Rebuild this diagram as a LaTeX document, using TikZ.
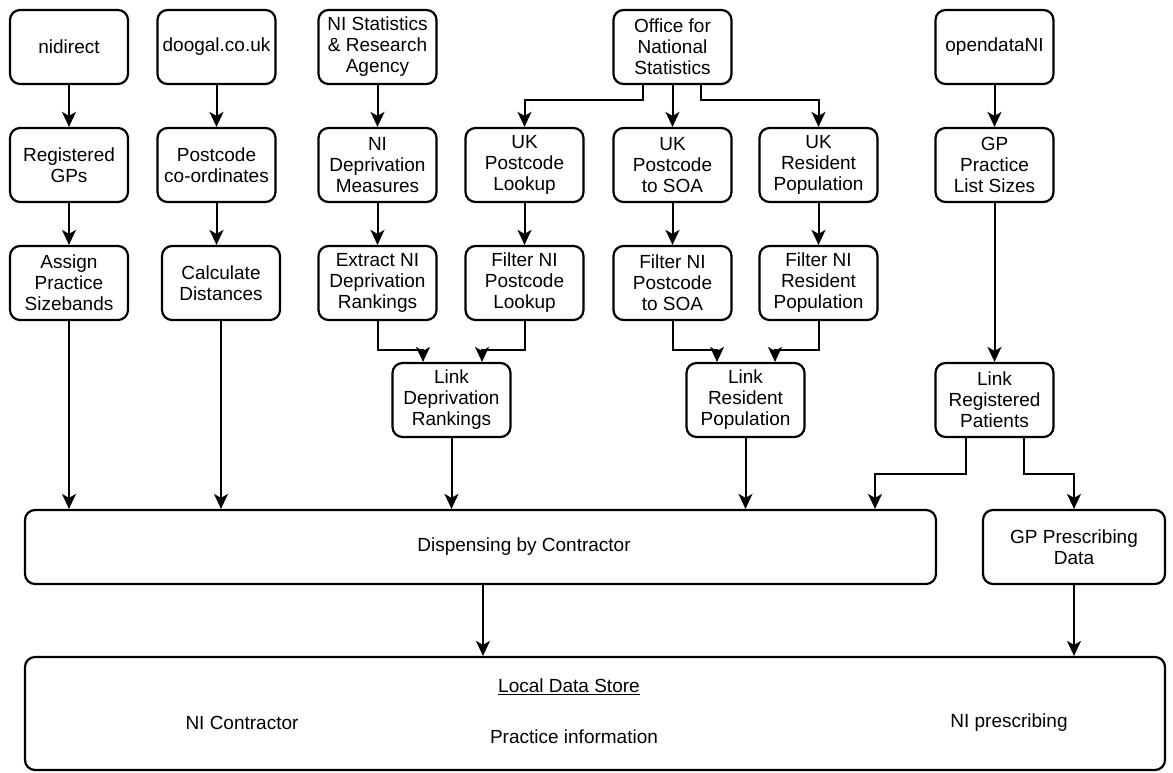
\documentclass[tikz,border=0pt]{standalone}
\usepackage{fontspec}
\setmainfont{Liberation Sans}
\usepackage{tikz}
\usetikzlibrary{calc,arrows.meta}

\begin{document}
\begin{tikzpicture}[x=1pt,y=-1pt]
  \tikzset{flowbox/.style={draw=black,line width=2.2pt,rounded corners=10pt,align=center,
      minimum width=118pt,minimum height=74pt,inner sep=2pt,font=\fontsize{19}{21}\selectfont}}
  \tikzset{flowarrow/.style={draw=black,line width=2pt,-{Stealth[length=15pt,width=14pt,inset=4pt]}}}
  \tikzset{storetext/.style={inner sep=0pt,font=\fontsize{19}{21}\selectfont}}
  \useasboundingbox (0,0) rectangle (1173,772);
  % sources
  \node[flowbox] (nidirect) at (69,47) {nidirect};
  \node[flowbox] (doogal) at (216.5,47) {doogal.co.uk};
  \node[flowbox] (nisra) at (377.5,47) {NI Statistics\\\& Research\\Agency};
  \node[flowbox] (ons) at (672.5,47) {Office for\\National\\Statistics};
  \node[flowbox] (opendata) at (994.5,47) {opendataNI};
  % data sets
  \node[flowbox] (reggp) at (69,165) {Registered\\GPs};
  \node[flowbox] (pccoord) at (216.5,165) {Postcode\\co-ordinates};
  \node[flowbox] (depmeas) at (377.5,165) {NI\\Deprivation\\Measures};
  \node[flowbox] (pclookup) at (524.5,165) {UK\\Postcode\\Lookup};
  \node[flowbox] (pcsoa) at (672.5,165) {UK\\Postcode\\to SOA};
  \node[flowbox] (ukres) at (818.5,165) {UK\\Resident\\Population};
  \node[flowbox] (gplist) at (994.5,165) {GP\\Practice\\List Sizes};
  % processing
  \node[flowbox] (sizeband) at (69,283) {Assign\\Practice\\Sizebands};
  \node[flowbox] (calcdist) at (221,283) {Calculate\\Distances};
  \node[flowbox] (extract) at (377.5,283) {Extract NI\\Deprivation\\Rankings};
  \node[flowbox] (filtlookup) at (524.5,283) {Filter NI\\Postcode\\Lookup};
  \node[flowbox] (filtsoa) at (672.5,283) {Filter NI\\Postcode\\to SOA};
  \node[flowbox] (filtres) at (818.5,283) {Filter NI\\Resident\\Population};
  \node[flowbox] (linkdep) at (451.5,400) {Link\\Deprivation\\Rankings};
  \node[flowbox] (linkres) at (745.5,400) {Link\\Resident\\Population};
  \node[flowbox] (linkreg) at (994.5,400) {Link\\Registered\\Patients};
  % outputs
  \node[flowbox,minimum width=911pt] (dispensing) at (480.5,547) {};
  \node[storetext] (disptext) at (524,547) {Dispensing by Contractor};
  \node[flowbox,minimum width=182pt] (gppresc) at (1074,547) {GP Prescribing\\Data};
  \node[flowbox,minimum width=1140pt,minimum height=113pt] (store) at (595,713.5) {};
  \node[storetext] (storetitle) at (569,687) {\underline{Local Data Store}};
  \node[storetext] (nicontr) at (242,723) {NI Contractor};
  \node[storetext] (pracinfo) at (574,737) {Practice information};
  \node[storetext] (nipresc) at (1009,723) {NI prescribing};
  % connectors
  \draw[flowarrow] (nidirect) -- (reggp);
  \draw[flowarrow] (reggp) -- (sizeband);
  \draw[flowarrow] (sizeband.south) -- (sizeband.south |- dispensing.north);
  \draw[flowarrow] (doogal) -- (pccoord);
  \draw[flowarrow] (pccoord.south) -- (pccoord.south |- calcdist.north);
  \draw[flowarrow] (calcdist.south) -- (calcdist.south |- dispensing.north);
  \draw[flowarrow] (nisra) -- (depmeas);
  \draw[flowarrow] (depmeas) -- (extract);
  \draw[flowarrow] (extract.south) -- ++(0,29) -| ([xshift=-28.5pt]linkdep.north);
  \draw[flowarrow] ([xshift=-29.5pt]ons.south) -- ++(0,15) -| (pclookup.north);
  \draw[flowarrow] (ons) -- (pcsoa);
  \draw[flowarrow] ([xshift=28.5pt]ons.south) -- ++(0,15) -| (ukres.north);
  \draw[flowarrow] (pclookup) -- (filtlookup);
  \draw[flowarrow] (pcsoa) -- (filtsoa);
  \draw[flowarrow] (ukres) -- (filtres);
  \draw[flowarrow] (filtlookup.south) -- ++(0,29) -| ([xshift=30.5pt]linkdep.north);
  \draw[flowarrow] (filtsoa.south) -- ++(0,29) -| ([xshift=-28.5pt]linkres.north);
  \draw[flowarrow] (filtres.south) -- ++(0,29) -| ([xshift=29.5pt]linkres.north);
  \draw[flowarrow] (linkdep.south) -- (linkdep.south |- dispensing.north);
  \draw[flowarrow] (linkres.south) -- (linkres.south |- dispensing.north);
  \draw[flowarrow] (opendata) -- (gplist);
  \draw[flowarrow] (gplist) -- (linkreg);
  \draw[flowarrow] ([xshift=-28.5pt]linkreg.south) -- ++(0,36) -| ([xshift=394.5pt]dispensing.north);
  \draw[flowarrow] ([xshift=29.5pt]linkreg.south) -- ++(0,36) -| (gppresc.north);
  \draw[flowarrow] ([xshift=2.5pt]dispensing.south) -- ([xshift=2.5pt]dispensing.south |- store.north);
  \draw[flowarrow] (gppresc.south) -- (gppresc.south |- store.north);
\end{tikzpicture}
\end{document}
